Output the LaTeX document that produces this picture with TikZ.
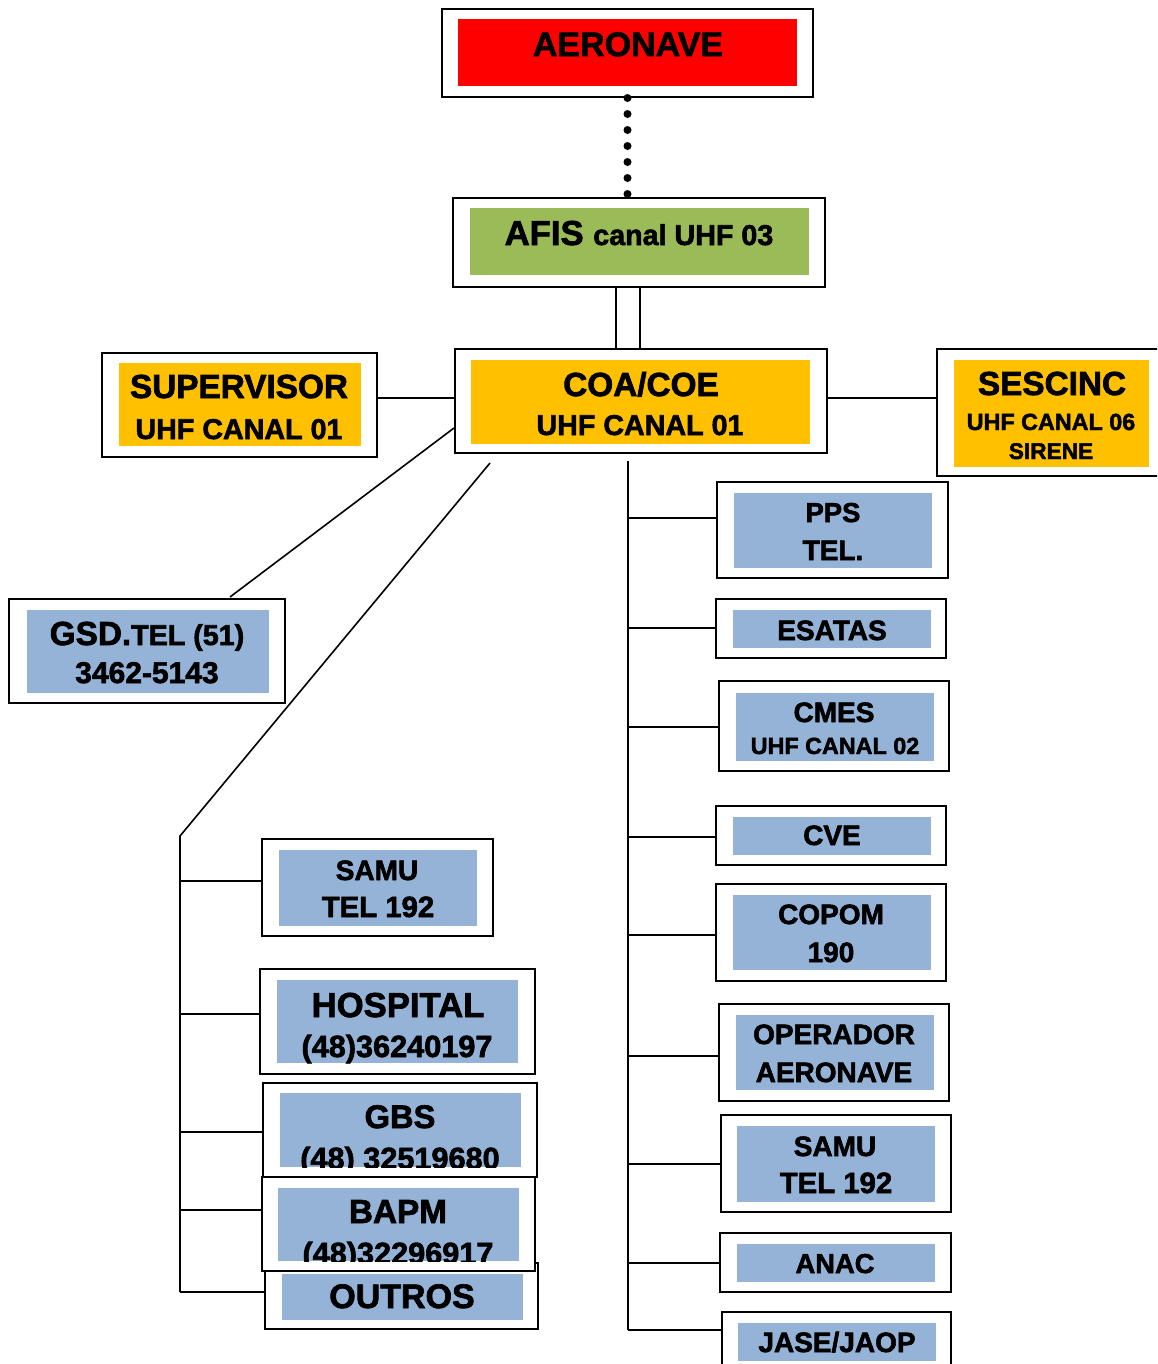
\documentclass[tikz,border=0pt]{standalone}
\usepackage{fontspec}
\setmainfont{Liberation Sans}[BoldFeatures={FakeBold=2}]
\usepackage{tikz}
\usetikzlibrary{fit}

\definecolor{aerored}{RGB}{255,0,0}
\definecolor{afisgreen}{RGB}{155,187,89}
\definecolor{coayellow}{RGB}{255,192,0}
\definecolor{telblue}{RGB}{149,179,215}

\tikzset{
    frame/.style={draw, line width=1.5pt, fill=white, inner sep=0pt},
    panel/.style={inner sep=0pt},
    lbl/.style={inner sep=0pt, anchor=base, font=\bfseries},
    link/.style={line width=1.2pt}
}
\newcommand{\txtsize}[1]{\fontsize{#1}{#1}\selectfont}

\begin{document}
\begin{tikzpicture}[x=0.75pt,y=-0.75pt]
    \clip (0,0) rectangle (1157,1364);

    % aircraft
    \node[frame, fit={(442,9) (813,97)}] (aeronave) {};
    \node[panel, fill=aerored, fit={(458,19) (797,86)}] (aeronave-in) {};
    \node[lbl] (aeronave-t) at (628,56) {\txtsize{25.5}AERONAVE};

    % AFIS
    \node[frame, fit={(453,198) (825,287)}] (afis) {};
    \node[panel, fill=afisgreen, fit={(470,208) (809,275)}] (afis-in) {};
    \node[lbl] (afis-t) at (639,245) {\txtsize{26}AFIS \txtsize{21.5}canal UHF 03};
    \draw[line width=6pt, line cap=round, dash pattern=on 0pt off 12pt]
        (aeronave.south) -- (aeronave.south |- afis.north);

    % COA/COE
    \node[frame, fit={(455,349) (827,453)}] (coa) {};
    \node[panel, fill=coayellow, fit={(471,360) (810,444)}] (coa-in) {};
    \node[lbl] (coa-t1) at (641,396) {\txtsize{25}COA/COE};
    \node[lbl] (coa-t2) at (640,435) {\txtsize{21.5}UHF CANAL 01};
    \draw[link] (afis.south -| 616,0) -- (coa.north -| 616,0);
    \draw[link] (afis.south -| 640,0) -- (coa.north -| 640,0);

    % supervisor
    \node[frame, fit={(102,353) (377,457)}] (supervisor) {};
    \node[panel, fill=coayellow, fit={(119,363) (361,446)}] (supervisor-in) {};
    \node[lbl] (supervisor-t1) at (239,398) {\txtsize{25}SUPERVISOR};
    \node[lbl] (supervisor-t2) at (239,439) {\txtsize{21.5}UHF CANAL 01};
    \draw[link] (supervisor.east |- 0,398) -- (coa.west |- 0,398);

    % SESCINC
    \node[frame, fit={(937,349) (1166,476)}] (sescinc) {};
    \node[panel, fill=coayellow, fit={(954,360) (1149,467)}] (sescinc-in) {};
    \node[lbl] (sescinc-t1) at (1052,395) {\txtsize{25}SESCINC};
    \node[lbl] (sescinc-t2) at (1051,430) {\txtsize{17.5}UHF CANAL 06};
    \node[lbl] (sescinc-t3) at (1051,459) {\txtsize{17}SIRENE};
    \draw[link] (coa.east |- 0,398) -- (sescinc.west |- 0,398);

    % GSD
    \node[frame, fit={(9,599) (285,703)}] (gsd) {};
    \node[panel, fill=telblue, fit={(27,610) (269,693)}] (gsd-in) {};
    \node[lbl] (gsd-t1) at (147,645) {\txtsize{25}GSD.\txtsize{21.5}TEL (51)};
    \node[lbl] (gsd-t2) at (147,683) {\txtsize{22.5}3462-5143};
    \coordinate (gsd-top) at (230,597);
    \draw[link] (coa.west |- 0,428) -- (gsd-top);

    % left branch
    \coordinate (coa-foot) at (490,463);
    \coordinate (l-bend) at (180,836);
    \coordinate (l-end) at (180,1292);
    \draw[link] (coa-foot) -- (l-bend) -- (l-end);

    \node[frame, fit={(262,839) (493,936)}] (samul) {};
    \node[panel, fill=telblue, fit={(279,850) (477,926)}] (samul-in) {};
    \node[lbl] (samul-t1) at (377,880) {\txtsize{21}SAMU};
    \node[lbl] (samul-t2) at (378,917) {\txtsize{22}TEL 192};

    \node[frame, fit={(260,969) (535,1074)}] (hospital) {};
    \node[panel, fill=telblue, fit={(277,980) (518,1063)}] (hospital-in) {};
    \node[lbl] (hospital-t1) at (398,1017) {\txtsize{26}HOSPITAL};
    \node[lbl] (hospital-t2) at (397,1057) {\txtsize{23}(48)36240197};

    \node[frame, fit={(265,1263) (538,1329)}] (outros) {};
    \node[panel, fill=telblue, fit={(282,1274) (523,1320)}] (outros-in) {};
    \node[lbl] (outros-t) at (402,1308) {\txtsize{25.5}OUTROS};

    \node[frame, fit={(263,1083) (537,1177)}] (gbs) {};
    \node[panel, fill=telblue, fit={(280,1093) (521,1167)}] (gbs-in) {};
    \node[lbl] (gbs-t1) at (400,1128) {\txtsize{24.5}GBS};
    \begin{scope}
        \clip (280,1093) rectangle (521,1167);
        \node[lbl] (gbs-t2) at (400,1169) {\txtsize{23}(48) 32519680};
    \end{scope}

    \node[frame, fit={(262,1177) (535,1271)}] (bapm) {};
    \node[panel, fill=telblue, fit={(278,1188) (519,1261)}] (bapm-in) {};
    \node[lbl] (bapm-t1) at (398,1223) {\txtsize{25}BAPM};
    \begin{scope}
        \clip (278,1188) rectangle (519,1261);
        \node[lbl] (bapm-t2) at (398,1264) {\txtsize{23}(48)32296917};
    \end{scope}

    \draw[link] (l-bend |- 0,881) -- (samul.west |- 0,881);
    \draw[link] (l-bend |- 0,1014) -- (hospital.west |- 0,1014);
    \draw[link] (l-bend |- 0,1132) -- (gbs.west |- 0,1132);
    \draw[link] (l-bend |- 0,1210) -- (bapm.west |- 0,1210);
    \draw[link] (l-end) -- (outros.west |- l-end);

    % right branch
    \coordinate (r-top) at (628,461);
    \coordinate (r-end) at (628,1330);
    \draw[link] (r-top) -- (r-end);

    \node[frame, fit={(717,482) (948,578)}] (pps) {};
    \node[panel, fill=telblue, fit={(734,493) (932,568)}] (pps-in) {};
    \node[lbl] (pps-t1) at (833,522) {\txtsize{20.5}PPS};
    \node[lbl] (pps-t2) at (833,560) {\txtsize{21}TEL.};

    \node[frame, fit={(716,599) (946,658)}] (esatas) {};
    \node[panel, fill=telblue, fit={(733,610) (931,648)}] (esatas-in) {};
    \node[lbl] (esatas-t) at (832,640) {\txtsize{21}ESATAS};

    \node[frame, fit={(719,681) (949,771)}] (cmes) {};
    \node[panel, fill=telblue, fit={(736,693) (934,761)}] (cmes-in) {};
    \node[lbl] (cmes-t1) at (834,722) {\txtsize{21}CMES};
    \node[lbl] (cmes-t2) at (835,754) {\txtsize{17.5}UHF CANAL 02};

    \node[frame, fit={(716,806) (946,865)}] (cve) {};
    \node[panel, fill=telblue, fit={(733,817) (931,855)}] (cve-in) {};
    \node[lbl] (cve-t) at (832,845) {\txtsize{21}CVE};

    \node[frame, fit={(716,884) (946,981)}] (copom) {};
    \node[panel, fill=telblue, fit={(733,895) (931,970)}] (copom-in) {};
    \node[lbl] (copom-t1) at (831,924) {\txtsize{21}COPOM};
    \node[lbl] (copom-t2) at (831,962) {\txtsize{21}190};

    \node[frame, fit={(719,1004) (949,1101)}] (operador) {};
    \node[panel, fill=telblue, fit={(736,1015) (934,1090)}] (operador-in) {};
    \node[lbl] (operador-t1) at (834,1044) {\txtsize{21}OPERADOR};
    \node[lbl] (operador-t2) at (834,1082) {\txtsize{21}AERONAVE};

    \node[frame, fit={(721,1115) (951,1212)}] (samur) {};
    \node[panel, fill=telblue, fit={(737,1126) (935,1202)}] (samur-in) {};
    \node[lbl] (samur-t1) at (835,1156) {\txtsize{21}SAMU};
    \node[lbl] (samur-t2) at (836,1193) {\txtsize{22}TEL 192};

    \node[frame, fit={(720,1233) (951,1292)}] (anac) {};
    \node[panel, fill=telblue, fit={(737,1244) (935,1282)}] (anac-in) {};
    \node[lbl] (anac-t) at (835,1273) {\txtsize{20.5}ANAC};

    \node[frame, fit={(722,1312) (951,1372)}] (jase) {};
    \node[panel, fill=telblue, fit={(738,1323) (936,1361)}] (jase-in) {};
    \node[lbl] (jase-t) at (837,1352) {\txtsize{21}JASE/JAOP};

    \draw[link] (r-top |- 0,518) -- (pps.west |- 0,518);
    \draw[link] (r-top |- 0,628) -- (esatas.west |- 0,628);
    \draw[link] (r-top |- 0,727) -- (cmes.west |- 0,727);
    \draw[link] (r-top |- 0,837) -- (cve.west |- 0,837);
    \draw[link] (r-top |- 0,935) -- (copom.west |- 0,935);
    \draw[link] (r-top |- 0,1056) -- (operador.west |- 0,1056);
    \draw[link] (r-top |- 0,1164) -- (samur.west |- 0,1164);
    \draw[link] (r-top |- 0,1263) -- (anac.west |- 0,1263);
    \draw[link] (r-end) -- (jase.west |- r-end);
\end{tikzpicture}
\end{document}
